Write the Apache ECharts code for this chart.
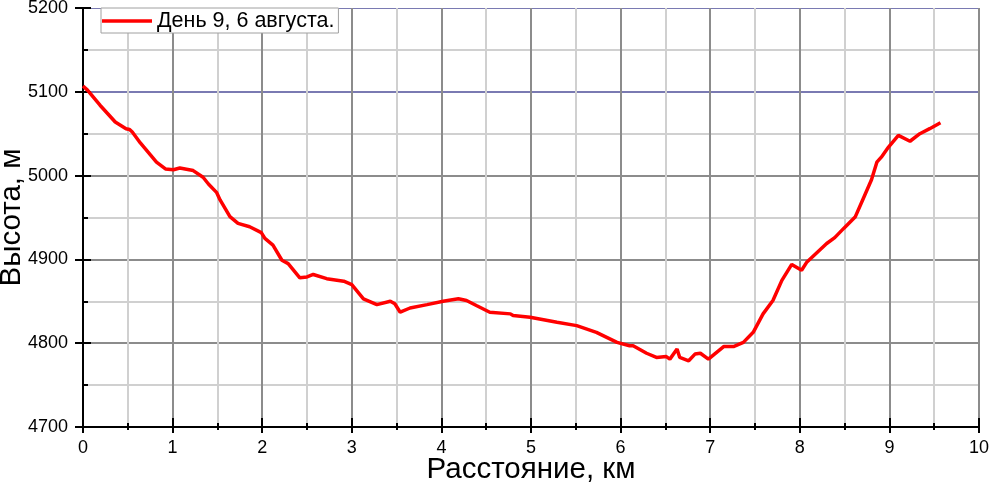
<!DOCTYPE html>
<html>
<head>
<meta charset="utf-8">
<script src="https://cdn.jsdelivr.net/npm/echarts@6/dist/echarts.min.js"></script>
<style>
html,body{margin:0;padding:0;background:#fff;}
#chart{width:990px;height:485px;}
</style>
</head>
<body>
<div id="chart"></div>
<script>
const distanceKm = [0.00,0.05,0.19,0.36,0.48,0.52,0.55,0.64,0.82,0.92,1.01,1.08,1.23,1.34,1.40,1.49,1.53,1.64,1.73,1.86,1.99,2.03,2.12,2.22,2.29,2.42,2.50,2.57,2.72,2.91,3.00,3.13,3.28,3.43,3.48,3.54,3.65,3.84,4.02,4.19,4.28,4.39,4.54,4.77,4.80,4.99,5.29,5.51,5.73,5.96,6.10,6.14,6.29,6.40,6.51,6.55,6.63,6.66,6.76,6.83,6.89,6.98,7.15,7.26,7.37,7.48,7.59,7.70,7.80,7.91,8.02,8.08,8.19,8.30,8.39,8.49,8.62,8.71,8.80,8.86,8.91,8.99,9.10,9.23,9.34,9.45,9.57];
const elevationM = [5107,5102,5084,5064,5056,5055,5052,5039,5016,5008,5007,5009,5006,4998,4990,4980,4971,4951,4943,4939,4932,4925,4917,4899,4895,4878,4879,4882,4877,4874,4870,4853,4846,4850,4847,4837,4842,4846,4850,4853,4851,4845,4837,4835,4833,4831,4825,4821,4813,4801,4797,4797,4788,4783,4784,4781,4793,4783,4779,4787,4788,4781,4796,4796,4801,4813,4835,4851,4875,4894,4887,4897,4908,4919,4926,4937,4951,4973,4995,5016,5022,5034,5048,5041,5050,5056,5063];
const seriesName = 'День 9, 6 августа.';
const xTitle = 'Расстояние, км';
const yTitle = 'Высота, м';
const xMin = 0, xMax = 10, xStep = 1;
const yMin = 4700, yMax = 5200, yStep = 100;
const highlightLevels = [5100, 5200];

const FONT = '"Liberation Sans", Arial, sans-serif';
const data = distanceKm.map((d, i) => [d, elevationM[i]]);
const plain = v => String(v);

const chart = echarts.init(document.getElementById('chart'), null, {renderer: 'canvas'});
chart.setOption({
  animation: false,
  backgroundColor: '#fff',
  grid: {left: 83, right: 11, top: 8, bottom: 58, containLabel: false, outerBoundsMode: 'none'},
  legend: {
    left: 101, top: 8,
    padding: [2, 4, 1, 1],
    itemGap: 5,
    itemWidth: 50, itemHeight: 16,
    backgroundColor: '#fff',
    borderColor: '#a0a0a0', borderWidth: 1, borderRadius: 0,
    textStyle: {fontFamily: FONT, fontSize: 21.5, color: '#000'},
    data: [{name: seriesName, icon: 'path://M0,6.3 L50,6.3 L50,9.7 L0,9.7 Z', itemStyle: {color: '#ff0000'}}]
  },
  xAxis: [{
    type: 'value', min: xMin, max: xMax, interval: xStep,
    name: xTitle, nameLocation: 'middle', nameGap: 28, nameMoveOverlap: false,
    nameTextStyle: {fontFamily: FONT, fontSize: 29.5, color: '#000'},
    axisLine: {show: true, onZero: false, lineStyle: {color: '#000', width: 2}},
    axisTick: {show: true, inside: true, length: 9, lineStyle: {color: '#000', width: 2}},
    minorTick: {show: true, splitNumber: 2, length: 4, lineStyle: {color: '#000', width: 2}},
    axisLabel: {margin: 12, fontFamily: FONT, fontSize: 18, color: '#000', formatter: plain},
    splitLine: {show: true, lineStyle: {color: '#8c8c8c', width: 2}},
    minorSplitLine: {show: true, lineStyle: {color: '#d0d0d0', width: 2}},
    z: 3
  }, {
    type: 'value', min: xMin, max: xMax, interval: xStep, position: 'bottom',
    axisLine: {show: false, onZero: false},
    axisTick: {show: true, inside: false, length: 6, lineStyle: {color: '#000', width: 2}},
    minorTick: {show: true, splitNumber: 2, length: 3, lineStyle: {color: '#000', width: 2}},
    axisLabel: {show: false},
    splitLine: {show: false}
  }],
  yAxis: [{
    type: 'value', min: yMin, max: yMax, interval: yStep,
    name: yTitle, nameLocation: 'middle', nameGap: 56, nameRotate: 90, nameMoveOverlap: false,
    nameTextStyle: {fontFamily: FONT, fontSize: 29.5, color: '#000'},
    axisLine: {show: true, onZero: false, lineStyle: {color: '#000', width: 2}},
    axisTick: {show: true, inside: true, length: 8, lineStyle: {color: '#000', width: 2}},
    minorTick: {show: true, splitNumber: 2, length: 5, lineStyle: {color: '#000', width: 2}},
    axisLabel: {margin: 15, fontFamily: FONT, fontSize: 18, color: '#000', formatter: plain},
    splitLine: {show: true, lineStyle: {color: ['#8c8c8c','#8c8c8c','#8c8c8c','#8c8c8c','transparent','transparent'], width: 2}},
    minorSplitLine: {show: true, lineStyle: {color: '#d0d0d0', width: 2}},
    z: 3
  }, {
    type: 'value', min: yMin, max: yMax, interval: yStep, position: 'left',
    axisLine: {show: false, onZero: false},
    axisTick: {show: true, inside: false, length: 8, lineStyle: {color: '#000', width: 2}},
    minorTick: {show: false},
    axisLabel: {show: false},
    splitLine: {show: false}
  }],
  series: [{
    name: seriesName,
    type: 'line',
    data: data,
    showSymbol: false, symbol: 'none',
    smooth: false,
    lineStyle: {color: '#ff0000', width: 3.5},
    itemStyle: {color: '#ff0000'},
    z: 5,
    markLine: {
      silent: true, symbol: ['none', 'none'], label: {show: false},
      data: highlightLevels.map((v, i) => ({yAxis: v, lineStyle: {color: '#7a7ab2', width: i === 0 ? 2 : 1, type: 'solid'}})),
      z: 2
    }
  }]
});
</script>
</body>
</html>
